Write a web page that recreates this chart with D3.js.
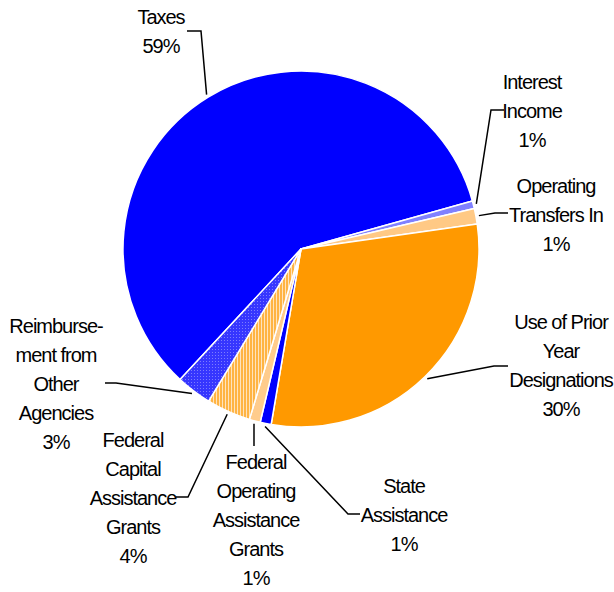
<!DOCTYPE html>
<html>
<head>
<meta charset="utf-8">
<script src="https://cdn.jsdelivr.net/npm/d3@7/dist/d3.min.js"></script>
<style>
  html, body { margin: 0; padding: 0; background: #fff; }
  svg { display: block; }
  text { font-family: "Liberation Sans", Arial, sans-serif; font-size: 20px; fill: #000; letter-spacing: -1px; }
</style>
</head>
<body>
<svg id="chart" width="614" height="592"></svg>
<script>
// Revenue sources, clockwise starting with Taxes
const categories = [
  ["Taxes"],
  ["Interest", "Income"],
  ["Operating", "Transfers In"],
  ["Use of Prior", "Year", "Designations"],
  ["State", "Assistance"],
  ["Federal", "Operating", "Assistance", "Grants"],
  ["Federal", "Capital", "Assistance", "Grants"],
  ["Reimburse-", "ment from", "Other", "Agencies"]
];
// Share of total revenue, in percent
const values = [58.7, 0.7, 1.4, 29.9, 1.0, 1.0, 4.0, 3.2];

// Slice fills (patterns defined below)
const fills = ["#0000ff", "#8080ff", "#ffc985", "#ff9900", "#0000ff", "#ffcc8c", "url(#stripes)", "url(#checks)"];

// Label placement: centre of first text line, and the leader's horizontal run
const labelLayout = [
  { x: 161, y: 17,  p0: [187, 31],  p1: [201, 31] },
  { x: 532, y: 82,  p0: [504, 110], p1: [491, 110] },
  { x: 556, y: 186, p0: [508, 213], p1: [495, 213] },
  { x: 561, y: 322, p0: [508, 366], p1: [494, 366] },
  { x: 404, y: 486, p0: [360, 514], p1: [348, 514] },
  { x: 256, y: 462, p0: [254, 446], p1: [254, 446] },
  { x: 133, y: 440, p0: [176, 497], p1: [188, 497] },
  { x: 56,  y: 326, p0: [105, 383], p1: [116, 383] }
];

const svg = d3.select("#chart");
const cx = 301, cy = 249, r = 178, lineH = 29;
const deg = Math.PI / 180;

// Patterns
const defs = svg.append("defs");
const stripes = defs.append("pattern").attr("id", "stripes")
  .attr("patternUnits", "userSpaceOnUse").attr("width", 3).attr("height", 3);
stripes.append("rect").attr("width", 3).attr("height", 3).attr("fill", "#ffe3bd");
stripes.append("rect").attr("width", 2).attr("height", 3).attr("fill", "#ffb443");

const checks = defs.append("pattern").attr("id", "checks")
  .attr("patternUnits", "userSpaceOnUse").attr("width", 3).attr("height", 3);
checks.append("rect").attr("width", 3).attr("height", 3).attr("fill", "#3636ff");
checks.append("rect").attr("x", 1).attr("y", 1).attr("width", 1).attr("height", 1).attr("fill", "#7c7cff");

const startAngle = 222.8 * deg;
const pie = d3.pie().sort(null).value(d => d)
  .startAngle(startAngle).endAngle(startAngle + 2 * Math.PI);
const arcs = pie(values);

const arc = d3.arc().innerRadius(0).outerRadius(r);
const anchorArc = d3.arc().innerRadius(r + 3).outerRadius(r + 3);

const g = svg.append("g").attr("transform", `translate(${cx},${cy})`);
g.selectAll("path.slice").data(arcs).join("path")
  .attr("class", "slice")
  .attr("d", arc)
  .attr("fill", (d, i) => fills[i])
  .attr("stroke", "#fff")
  .attr("stroke-width", 1.5)
  .attr("stroke-linejoin", "round");

// Leader lines
const line = d3.line();
arcs.forEach((d, i) => {
  const L = labelLayout[i];
  const a = anchorArc.centroid(d);
  const pts = [L.p0, L.p1, [a[0] + cx, a[1] + cy]];
  svg.append("path")
    .attr("d", line(pts))
    .attr("fill", "none")
    .attr("stroke", "#000")
    .attr("stroke-width", 1.5);
});

// Labels: name lines followed by rounded percentage
const fmt = v => Math.round(v) + "%";
categories.forEach((lines, i) => {
  const L = labelLayout[i];
  const all = lines.concat([fmt(values[i])]);
  const t = svg.append("text").attr("text-anchor", "middle");
  all.forEach((s, k) => {
    t.append("tspan").attr("x", L.x).attr("y", L.y + k * lineH + 7).text(s);
  });
});
</script>
</body>
</html>
